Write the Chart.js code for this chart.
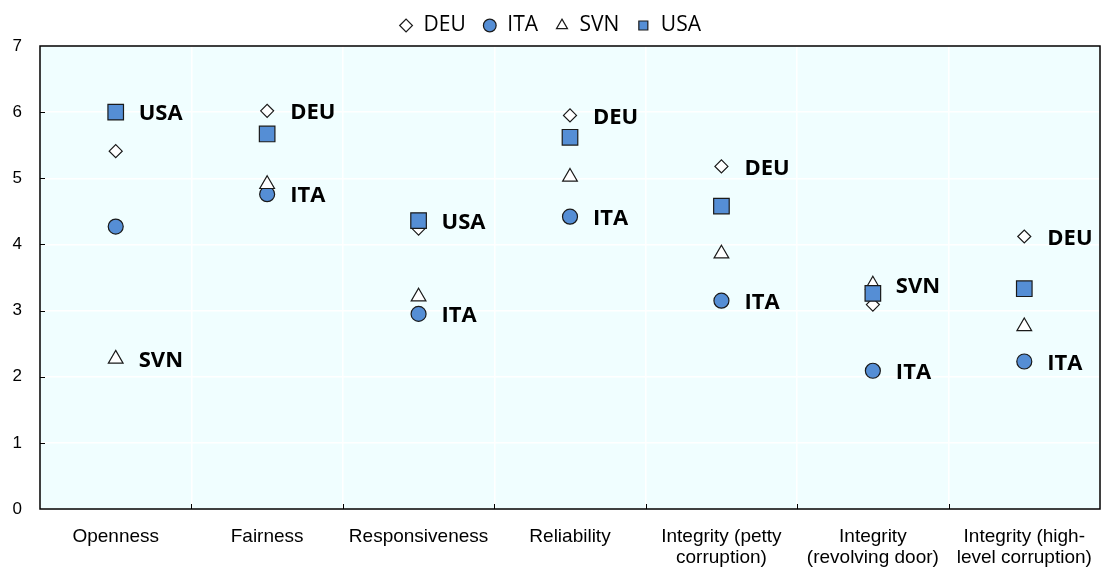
<!DOCTYPE html>
<html>
<head>
<meta charset="utf-8">
<script src="https://cdn.jsdelivr.net/npm/chart.js@4/dist/chart.umd.min.js"></script>
<style>
  html, body { margin: 0; padding: 0; background: #ffffff; overflow: hidden; }
  canvas { display: block; }
</style>
</head>
<body>
<canvas id="mycanvas" width="1103" height="570"></canvas>
<script>
// categories on the x axis
var categories = [
    "Openness",
    "Fairness",
    "Responsiveness",
    "Reliability",
    ["Integrity (petty", "corruption)"],
    ["Integrity", "(revolving door)"],
    ["Integrity (high-", "level corruption)"]
];

// values
var deu = [5.41, 6.02, 4.24, 5.95, 5.18, 3.09, 4.12];
var ita = [4.27, 4.76, 2.95, 4.42, 3.15, 2.09, 2.23];
var svn = [2.27, 4.91, 3.21, 5.02, 3.86, 3.39, 2.76];
var usa = [6.00, 5.67, 4.36, 5.62, 4.58, 3.26, 3.33];

var yTicks = [0, 1, 2, 3, 4, 5, 6, 7];

// which country gets a bold label in each category
var labelled = [
    ["USA", "SVN"],
    ["DEU", "ITA"],
    ["USA", "ITA"],
    ["DEU", "ITA"],
    ["DEU", "ITA"],
    ["SVN", "ITA"],
    ["DEU", "ITA"]
];

var blue = '#558ED5';
var edge = '#1a1a1a';

// plot background + frame + inward tick marks + bold labels
var frame = {
    id: 'frame',
    beforeDraw: function(chart) {
        var a = chart.chartArea, ctx = chart.ctx;
        ctx.save();
        ctx.fillStyle = '#F0FEFF';
        ctx.fillRect(a.left, a.top, a.right - a.left, a.bottom - a.top);
        ctx.restore();
    },
    afterDatasetsDraw: function(chart) {
        var a = chart.chartArea, ctx = chart.ctx;
        var x = chart.scales.x, y = chart.scales.y;
        ctx.save();
        ctx.strokeStyle = '#000';
        ctx.lineWidth = 1.5;
        ctx.strokeRect(a.left, a.top, a.right - a.left, a.bottom - a.top);
        ctx.lineWidth = 1;
        ctx.beginPath();
        for (var i = 1; i < categories.length; i++) {
            var px = Math.round((x.getPixelForValue(i - 1) + x.getPixelForValue(i)) / 2) + 0.5;
            ctx.moveTo(px, a.bottom);
            ctx.lineTo(px, a.bottom - 5);
        }
        for (var k = 1; k < yTicks.length - 1; k++) {
            var py = Math.round(y.getPixelForValue(yTicks[k])) + 0.5;
            ctx.moveTo(a.left, py);
            ctx.lineTo(a.left + 5, py);
        }
        ctx.stroke();
        ctx.restore();
    },
    afterDraw: function(chart) {
        var ctx = chart.ctx;
        ctx.save();
        ctx.font = 'bold 22px "Open Sans"';
        ctx.fillStyle = '#000';
        ctx.textBaseline = 'middle';
        ctx.textAlign = 'left';
        chart.data.datasets.forEach(function(ds, i) {
            var meta = chart.getDatasetMeta(i);
            meta.data.forEach(function(pt, j) {
                if (labelled[j].indexOf(ds.label) >= 0) {
                    ctx.fillText(ds.label, pt.x + 23, pt.y + 2);
                }
            });
        });
        ctx.restore();
    }
};

var chartdata = {
    labels: categories,
    datasets: [
        { label: 'DEU', data: deu, pointStyle: 'rectRot', pointRadius: 6.5, backgroundColor: '#ffffff', borderColor: edge, order: 4 },
        { label: 'ITA', data: ita, pointStyle: 'circle', pointRadius: 7.5, backgroundColor: blue, borderColor: edge, order: 3 },
        { label: 'SVN', data: svn, pointStyle: 'triangle', pointRadius: 8.5, backgroundColor: '#ffffff', borderColor: edge, order: 2 },
        { label: 'USA', data: usa, pointStyle: 'rect', pointRadius: 11, backgroundColor: blue, borderColor: edge, order: 1 }
    ]
};
chartdata.datasets.forEach(function(ds) {
    ds.showLine = false;
    ds.borderWidth = 1.2;
    ds.pointBorderWidth = 1.2;
    ds.pointBackgroundColor = ds.backgroundColor;
    ds.pointBorderColor = ds.borderColor;
    ds.pointHoverRadius = ds.pointRadius;
});

var ctx = document.getElementById('mycanvas');
var dotChart = new Chart(ctx, {
    type: 'line',
    data: chartdata,
    plugins: [frame],
    options: {
        responsive: false,
        animation: false,
        devicePixelRatio: 1,
        layout: { autoPadding: false, padding: { left: 0, right: 3, top: -11, bottom: 0 } },
        scales: {
            x: {
                type: 'category',
                offset: true,
                grid: { offset: true, color: '#ffffff', lineWidth: 1.5, drawTicks: false },
                border: { display: false },
                afterFit: function(axis) {
                    axis.height = 61;
                    axis.paddingLeft = 0;
                    axis.paddingRight = 0;
                },
                ticks: {
                    color: '#000',
                    padding: 17,
                    maxRotation: 0,
                    autoSkip: false,
                    font: { family: '"Liberation Sans", Arial', size: 19, lineHeight: 1.1 }
                }
            },
            y: {
                min: 0,
                max: 7,
                afterBuildTicks: function(axis) {
                    axis.ticks = yTicks.map(function(v) { return { value: v }; });
                },
                afterFit: function(axis) {
                    axis.width = 40;
                    axis.paddingTop = 46;
                },
                grid: { color: '#ffffff', lineWidth: 1.5, drawTicks: false },
                border: { display: false },
                ticks: {
                    color: '#000',
                    padding: 18,
                    font: { family: '"Liberation Sans", Arial', size: 17 }
                }
            }
        },
        plugins: {
            legend: {
                display: true,
                position: 'top',
                labels: {
                    usePointStyle: true,
                    boxHeight: 9,
                    boxWidth: 14,
                    padding: 17,
                    color: '#000',
                    font: { family: '"Open Sans"', size: 21 },
                    sort: function(a, b) { return a.datasetIndex - b.datasetIndex; }
                }
            },
            tooltip: { enabled: false }
        }
    }
});
</script>
</body>
</html>
